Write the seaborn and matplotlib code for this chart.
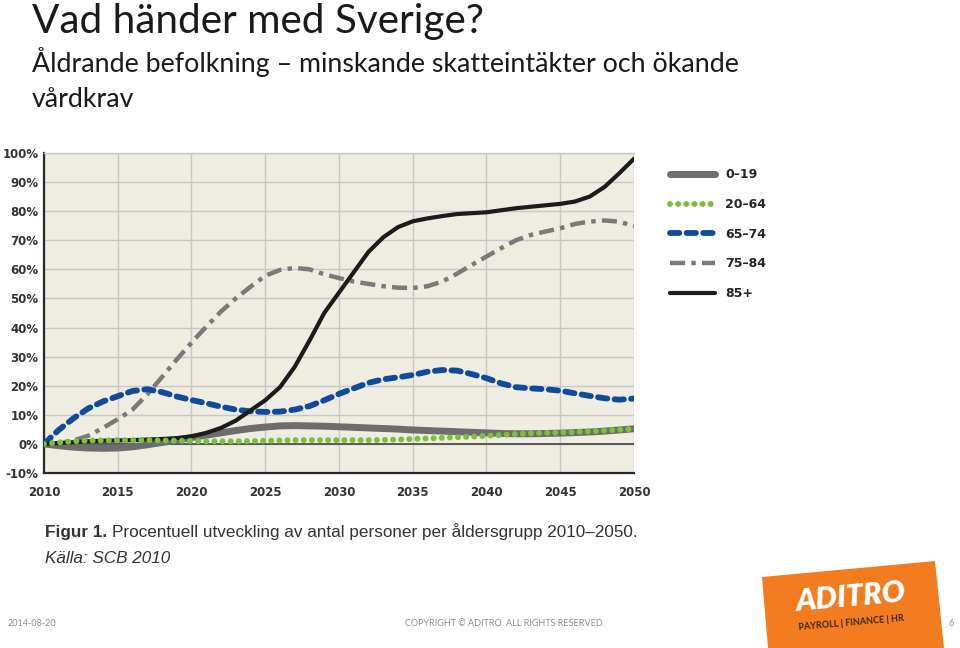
import matplotlib
matplotlib.use('Agg')
import matplotlib.pyplot as plt
from matplotlib.lines import Line2D
from matplotlib.patches import Polygon
from matplotlib import font_manager
import pandas as pd
import seaborn as sns

# =============================================================================
# Data (percent change vs 2010)
# =============================================================================
years = list(range(2010, 2051))

age_0_19 = [0, -0.6, -1.1, -1.4, -1.5, -1.4, -1.0, -0.3, 0.5, 1.3,
            2.2, 3.0, 3.8, 4.6, 5.3, 5.8, 6.2, 6.3, 6.2, 6.1,
            5.9, 5.7, 5.5, 5.3, 5.1, 4.8, 4.6, 4.4, 4.2, 4.0,
            3.8, 3.6, 3.5, 3.5, 3.6, 3.7, 3.9, 4.1, 4.4, 4.8, 5.2]

age_20_64 = [0, 0.5, 0.9, 1.1, 1.2, 1.3, 1.3, 1.3, 1.2, 1.1,
             1.0, 0.9, 0.9, 0.9, 1.0, 1.1, 1.2, 1.3, 1.3, 1.3,
             1.3, 1.3, 1.3, 1.4, 1.5, 1.7, 1.9, 2.1, 2.3, 2.5,
             2.8, 3.1, 3.4, 3.6, 3.8, 3.9, 4.1, 4.3, 4.6, 4.9, 5.2]

age_65_74 = [0, 4.8, 8.8, 12.2, 14.6, 16.4, 18.2, 18.8, 17.8, 16.3,
             15.1, 14.0, 12.8, 11.8, 11.2, 11.0, 11.1, 11.8, 13.0, 15.0,
             17.2, 19.1, 21.0, 22.2, 22.9, 23.7, 24.8, 25.4, 25.2, 24.0,
             22.6, 20.8, 19.5, 19.1, 18.8, 18.3, 17.4, 16.5, 15.7, 15.2, 15.6]

age_75_84 = [0, 0.3, 1.2, 2.8, 5.5, 8.5, 11.8, 17.0, 23.0, 29.0,
             34.8, 40.3, 45.5, 50.0, 54.0, 57.8, 59.8, 60.5, 60.0, 58.3,
             57.0, 55.8, 55.0, 54.2, 53.7, 53.6, 54.2, 55.8, 58.5, 61.5,
             64.4, 67.3, 70.0, 71.8, 73.0, 74.1, 75.6, 76.4, 76.8, 76.4, 74.8]

age_85 = [0, 0.3, 0.6, 0.9, 1.1, 1.2, 1.3, 1.5, 1.7, 2.0,
          2.6, 3.8, 5.5, 8.0, 11.5, 15.0, 19.5, 26.5, 35.5, 45.0,
          52.0, 59.0, 66.0, 71.0, 74.5, 76.5, 77.5, 78.3, 79.0, 79.3,
          79.6, 80.3, 81.0, 81.5, 82.0, 82.5, 83.3, 85.0, 88.3, 93.0, 98.0]

group_labels = ['0–19', '20–64', '65–74', '75–84', '85+']
x_ticks = [2010, 2015, 2020, 2025, 2030, 2035, 2040, 2045, 2050]
y_ticks = [-10, 0, 10, 20, 30, 40, 50, 60, 70, 80, 90, 100]

df = pd.DataFrame({'year': years, '0–19': age_0_19, '20–64': age_20_64,
                   '65–74': age_65_74, '75–84': age_75_84, '85+': age_85})
long_df = df.melt(id_vars='year', var_name='group', value_name='value')

# line styles per age group
styles = {
    '0–19': dict(color='#6d6d6d', linewidth=5.0, linestyle='-', solid_capstyle='round', zorder=3),
    '20–64': dict(color='#7dbf3c', linewidth=4.3, linestyle=(0, (0.01, 1.35)), dash_capstyle='round', zorder=7),
    '65–74': dict(color='#0f4a9c', linewidth=4.2, linestyle=(0, (1.6, 1.25)), dash_capstyle='round', zorder=5),
    '75–84': dict(color='#7a7a7a', linewidth=3.2, linestyle=(0, (3.4, 1.4, 1.0, 1.4)), dash_capstyle='butt', zorder=4),
    '85+': dict(color='#1c1c1c', linewidth=3.0, linestyle='-', solid_capstyle='round', zorder=6),
}

# =============================================================================
# Figure
# =============================================================================
sns.set_style('white')
plt.rcParams['font.family'] = ['DejaVu Sans']

fig = plt.figure(figsize=(9.6, 6.48), dpi=100)
fig.patch.set_facecolor('white')

ax = fig.add_axes([0.0458, 0.270, 0.6146, 0.494])
ax.set_facecolor('#efece2')

for g in group_labels:
    sns.lineplot(data=long_df[long_df['group'] == g], x='year', y='value',
                 ax=ax, legend=False, errorbar=None, **styles[g])

ax.set_xlim(2010, 2050)
ax.set_ylim(-10, 100)
ax.set_xticks(x_ticks)
ax.set_yticks(y_ticks)
ax.set_xticklabels([str(t) for t in x_ticks], fontweight='bold', fontsize=8.5, color='#333333')
ax.set_yticklabels([f'{t}%' for t in y_ticks], fontweight='bold', fontsize=8.5, color='#333333')
ax.tick_params(axis='both', length=0)
ax.tick_params(axis='x', pad=9)
ax.tick_params(axis='y', pad=4)
ax.set_xlabel('')
ax.set_ylabel('')
ax.grid(True, color='#c8c8c8', linewidth=1.0)
ax.set_axisbelow(True)
ax.axhline(0, color='#444444', linewidth=1.2, zorder=2)

for side in ['left', 'bottom']:
    ax.spines[side].set_color('#2a2a2a')
    ax.spines[side].set_linewidth(1.6)
ax.spines['top'].set_color('#c8c8c8')
ax.spines['top'].set_linewidth(1.0)
ax.spines['right'].set_visible(False)

# legend
handles = [Line2D([0], [0], **{k: v for k, v in styles[g].items() if k != 'zorder'}) for g in group_labels]
fig.legend(handles, group_labels, loc='upper left', bbox_to_anchor=(0.698, 0.740),
           frameon=False, prop={'weight': 'bold', 'size': 9}, handlelength=3.6,
           handletextpad=0.8, labelspacing=1.33, borderpad=0, borderaxespad=0)

# =============================================================================
# Slide texts
# =============================================================================
fig.text(0.033, 0.949, 'Vad händer med Sverige?', fontsize=29.2, family='Lato',
         color='#1a1a1a', va='baseline')
fig.text(0.033, 0.889, 'Åldrande befolkning – minskande skatteintäkter och ökande',
         fontsize=19.3, family='Lato', color='#1a1a1a', va='baseline')
fig.text(0.033, 0.835, 'vårdkrav', fontsize=19.3, family='Lato', color='#1a1a1a', va='baseline')

names = {f.name for f in font_manager.fontManager.ttflist}
cap_font = 'Liberation Sans Narrow' if 'Liberation Sans Narrow' in names else 'Liberation Sans'
t1 = fig.text(0.047, 0.171, 'Figur 1.', fontsize=12.3, family=cap_font, weight='bold',
              color='#333333', va='baseline')
fig.canvas.draw()
bb = t1.get_window_extent()
fig.text(bb.x1 / fig.bbox.width + 0.005, 0.171,
         'Procentuell utveckling av antal personer per åldersgrupp 2010–2050.',
         fontsize=12.3, family=cap_font, color='#333333', va='baseline')
fig.text(0.047, 0.131, 'Källa: SCB 2010', fontsize=12.3, family=cap_font, style='italic',
         color='#333333', va='baseline')

# footer
fig.text(0.008, 0.038, '2014-08-20', fontsize=6.5, family='Lato', color='#8c8c8c', va='center')
fig.text(0.422, 0.038, 'COPYRIGHT © ADITRO. ALL RIGHTS RESERVED.', fontsize=6.5, family='Lato',
         color='#8c8c8c', va='center')
fig.text(0.993, 0.038, '6', fontsize=6.5, family='Lato', color='#8c8c8c', va='center', ha='right')

# logo
W, H = 960, 648
logo_px = [(762, 577), (935, 561), (944, 648), (768, 648)]
fig.patches.append(Polygon([(x / W, 1 - y / H) for x, y in logo_px], closed=True,
                           transform=fig.transFigure, facecolor='#f47c20', edgecolor='none'))
fig.text(850 / W, 1 - 597 / H, 'ADITRO', fontsize=22, family='Lato', weight='heavy',
         style='italic', color='white', ha='center', va='center', rotation=5)
fig.text(851 / W, 1 - 623 / H, 'PAYROLL | FINANCE | HR', fontsize=6.5, family='Lato',
         weight='bold', color='#3a2a1a', ha='center', va='center', rotation=5)

plt.savefig('out.png', dpi=100)
